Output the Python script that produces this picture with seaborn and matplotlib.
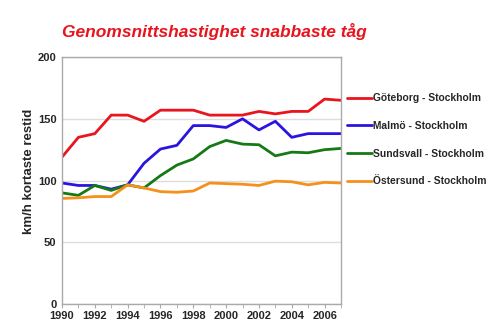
import matplotlib
matplotlib.use("Agg")
import matplotlib.pyplot as plt
import seaborn as sns
import pandas as pd

years = list(range(1990, 2008))
goteborg = [119, 135, 138, 153, 153, 148, 157, 157, 157, 153, 153, 153, 156, 154, 156, 156, 166, 165]
malmo = [98, 96, 96, 93, 96.5, 114, 125.5, 128.5, 144.5, 144.5, 143, 150, 141, 148, 135, 138, 138, 138]
sundsvall = [90, 88, 96, 92, 96.5, 94, 104, 112.5, 117.5, 127.5, 132.5, 129.5, 129, 120, 123, 122.5, 125, 126]
ostersund = [85.5, 86, 87, 87, 96.5, 94, 91, 90.5, 91.5, 98, 97.5, 97, 96, 99.5, 99, 96.5, 98.5, 98]
series_names = ["Göteborg - Stockholm", "Malmö - Stockholm", "Sundsvall - Stockholm", "Östersund - Stockholm"]
colors = ["#e8141e", "#2a14e0", "#157a15", "#f5901a"]
title = "Genomsnittshastighet snabbaste tåg"
ylabel = "km/h kortaste restid"
xticks = list(range(1990, 2007, 2))
yticks = [0, 50, 100, 150, 200]

rows = []
for name, vals in zip(series_names, [goteborg, malmo, sundsvall, ostersund]):
    for y, v in zip(years, vals):
        rows.append({"year": y, "value": v, "route": name})
df = pd.DataFrame(rows)

sns.set_style("white")
plt.rcParams["font.family"] = ["Liberation Sans", "DejaVu Sans"]

fig = plt.figure(figsize=(5, 3.34), dpi=100)
ax = fig.add_axes([0.124, 0.090, 0.558, 0.739])

sns.lineplot(data=df, x="year", y="value", hue="route", palette=colors,
             hue_order=series_names, linewidth=2, ax=ax, legend=False)

ax.set_xlim(1990, 2007)
ax.set_ylim(0, 200)
ax.set_yticks(yticks)
ax.set_xticks(xticks)
ax.set_xticks(years, minor=True)
ax.tick_params(axis="x", which="both", direction="out", length=3, color="#aaaaaa", bottom=True, pad=2)
ax.tick_params(axis="y", length=0, pad=4)
ax.set_xticklabels([str(t) for t in xticks], fontsize=8, fontweight="bold")
ax.set_yticklabels([str(t) for t in yticks], fontsize=8, fontweight="bold")
ax.yaxis.grid(True, color="#dddddd", linewidth=1)
ax.set_axisbelow(True)
for s in ax.spines.values():
    s.set_color("#aaaaaa")
    s.set_linewidth(1)
ax.set_xlabel("")
ax.set_ylabel(ylabel, fontsize=9.5, fontweight="bold")
ax.yaxis.set_label_coords(-0.097, 0.538)

fig.text(0.124, 0.905, title, color="#e8141e", fontsize=12.5, fontweight="bold",
         fontstyle="italic", ha="left", va="center")

handles = [plt.Line2D([], [], color=c, linewidth=2) for c in colors]
leg = fig.legend(handles, series_names, loc="upper left", bbox_to_anchor=(0.676, 0.748),
                 frameon=False, handlelength=2.4, handletextpad=0.1, labelspacing=1.72,
                 prop={"weight": "bold", "size": 7.4})

fig.savefig("out.png", dpi=100)
